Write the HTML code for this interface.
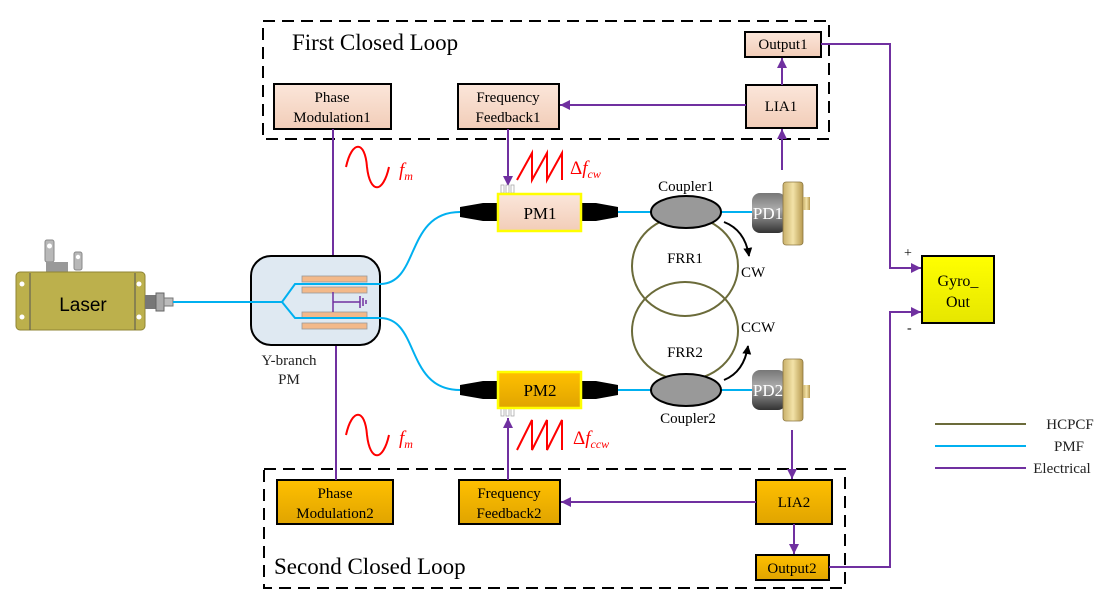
<!DOCTYPE html>
<html><head><meta charset="utf-8"><style>
html,body{margin:0;padding:0;background:#fff;}
svg{display:block;font-family:"Liberation Serif",serif;}
</style></head><body>
<svg width="1116" height="606" viewBox="0 0 1116 606" xmlns="http://www.w3.org/2000/svg">
<defs>
<marker id="ar" viewBox="0 0 10 10" refX="10" refY="5" markerWidth="10" markerHeight="10" markerUnits="userSpaceOnUse" orient="auto"><path d="M0,0 L10,5 L0,10 z" fill="#7030a0"/></marker>
<marker id="ak" viewBox="0 0 10 10" refX="9" refY="5" markerWidth="9" markerHeight="9" markerUnits="userSpaceOnUse" orient="auto"><path d="M0,0 L10,5 L0,10 z" fill="#000"/></marker>
<linearGradient id="peach" x1="0" y1="0" x2="0" y2="1"><stop offset="0" stop-color="#fbe6da"/><stop offset="1" stop-color="#f2cdb8"/></linearGradient>
<linearGradient id="gold" x1="0" y1="0" x2="0" y2="1"><stop offset="0" stop-color="#ffc000"/><stop offset="1" stop-color="#e0a400"/></linearGradient>
<linearGradient id="yel" x1="0" y1="0" x2="0" y2="1"><stop offset="0" stop-color="#ffff00"/><stop offset="1" stop-color="#e6e600"/></linearGradient>
<linearGradient id="pdb" x1="0" y1="0" x2="0" y2="1"><stop offset="0" stop-color="#777"/><stop offset="0.4" stop-color="#aaa"/><stop offset="1" stop-color="#333"/></linearGradient>
<linearGradient id="fl" x1="0" y1="0" x2="1" y2="0"><stop offset="0" stop-color="#c9b06a"/><stop offset="0.5" stop-color="#f3e3a8"/><stop offset="1" stop-color="#b89a50"/></linearGradient>
</defs>

<rect x="263" y="21" width="566" height="118" fill="none" stroke="#000" stroke-width="2" stroke-dasharray="12,7"/>
<text x="292" y="50" font-size="23">First Closed Loop</text>
<rect x="264" y="469" width="581" height="119" fill="none" stroke="#000" stroke-width="2" stroke-dasharray="12,7"/>
<text x="274" y="574" font-size="23">Second Closed Loop</text>

<g font-size="15" text-anchor="middle" stroke-width="2">
<rect x="274" y="84" width="117" height="45" fill="url(#peach)" stroke="#000"/>
<text x="332" y="102" stroke="none">Phase</text><text x="332" y="122" stroke="none">Modulation1</text>
<rect x="458" y="84" width="101" height="45" fill="url(#peach)" stroke="#000"/>
<text x="508" y="102" stroke="none">Frequency</text><text x="508" y="122" stroke="none">Feedback1</text>
<rect x="746" y="85" width="71" height="43" fill="url(#peach)" stroke="#000"/>
<text x="781" y="111" stroke="none">LIA1</text>
<rect x="745" y="32" width="76" height="25" fill="url(#peach)" stroke="#000"/>
<text x="783" y="49" stroke="none">Output1</text>

<rect x="277" y="480" width="116" height="44" fill="url(#gold)" stroke="#000"/>
<text x="335" y="498" stroke="none">Phase</text><text x="335" y="518" stroke="none">Modulation2</text>
<rect x="459" y="480" width="101" height="44" fill="url(#gold)" stroke="#000"/>
<text x="509" y="498" stroke="none">Frequency</text><text x="509" y="518" stroke="none">Feedback2</text>
<rect x="756" y="480" width="76" height="44" fill="url(#gold)" stroke="#000"/>
<text x="794" y="507" stroke="none">LIA2</text>
<rect x="756" y="555" width="73" height="25" fill="url(#gold)" stroke="#000"/>
<text x="792" y="573" stroke="none">Output2</text>

<rect x="922" y="256" width="72" height="67" fill="url(#yel)" stroke="#000"/>
<text x="958" y="286" stroke="none" font-size="16">Gyro_</text><text x="958" y="307" stroke="none" font-size="16">Out</text>
</g>
<text x="904" y="257" font-size="14">+</text>
<text x="907" y="332" font-size="14">-</text>

<g stroke="#7030a0" stroke-width="2" fill="none" marker-end="url(#ar)">
<path d="M821,44 H890 V268 H921"/>
<path d="M829,567 H890 V312 H921"/>
<path d="M782,85 V58"/>
<path d="M782,170 V129"/>
<path d="M746,105 H560"/>
<path d="M508,129 V186"/>
<path d="M333,129 V283"/>
<path d="M792,430 V479"/>
<path d="M756,502 H561"/>
<path d="M794,524 V554"/>
<path d="M508,480 V418"/>
<path d="M336,480 V328"/>
</g>

<rect x="45" y="240" width="9" height="22" rx="2" fill="#b8b8b8" stroke="#888"/>
<circle cx="49.5" cy="246" r="2.5" fill="#fff"/>
<rect x="74" y="252" width="8" height="18" rx="2" fill="#b8b8b8" stroke="#888"/>
<circle cx="78" cy="257" r="2.2" fill="#fff"/>
<rect x="46" y="262" width="22" height="10" fill="#999"/>
<rect x="16" y="272" width="129" height="58" rx="4" fill="#bcb04c" stroke="#8f8535"/>
<line x1="30" y1="273" x2="30" y2="330" stroke="#555"/>
<line x1="135" y1="273" x2="135" y2="330" stroke="#555"/>
<circle cx="22" cy="284" r="2.5" fill="#fff"/><circle cx="22" cy="317" r="2.5" fill="#fff"/>
<circle cx="139" cy="284" r="2.5" fill="#fff"/><circle cx="139" cy="317" r="2.5" fill="#fff"/>
<text x="83" y="311" font-size="19" text-anchor="middle" font-family="Liberation Sans, sans-serif">Laser</text>
<rect x="145" y="295" width="11" height="14" fill="#777"/>
<rect x="156" y="293" width="8" height="18" fill="#aaa" stroke="#666"/>
<rect x="164" y="298" width="9" height="8" fill="#bbb" stroke="#777"/>

<rect x="251" y="256" width="129" height="89" rx="20" fill="#dfe9f2" stroke="#000" stroke-width="2"/>
<g fill="#f3b98a" stroke="#999" stroke-width="0.8">
<rect x="302" y="276" width="65" height="6"/><rect x="302" y="287" width="65" height="6"/>
<rect x="302" y="312" width="65" height="6"/><rect x="302" y="323" width="65" height="6"/>
</g>
<g stroke="#7030a0" stroke-width="1.5" fill="none">
<path d="M333,292 V312 M333,302 H360 M360,296 V308 M363,298 V306 M366,300 V304"/>
</g>
<text x="289" y="365" font-size="15" text-anchor="middle" fill="#222">Y-branch</text>
<text x="289" y="384" font-size="15" text-anchor="middle" fill="#222">PM</text>

<g stroke="#00b0f0" stroke-width="2" fill="none">
<path d="M173,302 H282 L295,284 H380 C420,284 405,212 460,212"/>
<path d="M282,302 L295,318 H380 C420,318 405,390 460,390"/>
<path d="M618,212 H651 M721,212 H752"/>
<path d="M618,390 H651 M721,390 H752"/>
<line x1="935" y1="446" x2="1026" y2="446"/>
</g>
<line x1="935" y1="424" x2="1026" y2="424" stroke="#6b6b3a" stroke-width="2"/>
<line x1="935" y1="468" x2="1026" y2="468" stroke="#7030a0" stroke-width="2"/>
<g font-size="15" text-anchor="middle" fill="#222">
<text x="1070" y="429">HCPCF</text><text x="1069" y="451">PMF</text><text x="1062" y="473">Electrical</text>
</g>

<g fill="#000">
<path d="M460,207 L483,203 H498 V221 H483 L460,217 Z"/>
<path d="M618,207 L596,203 H581 V221 H596 L618,217 Z"/>
<path d="M460,385 L483,381 H498 V399 H483 L460,395 Z"/>
<path d="M618,385 L596,381 H581 V399 H596 L618,395 Z"/>
</g>
<g stroke="#aaa" fill="#fff" stroke-width="0.8">
<rect x="501" y="185" width="3" height="8"/><rect x="506" y="185" width="3" height="8"/><rect x="511" y="185" width="3" height="8"/>
<rect x="501" y="408" width="3" height="8"/><rect x="506" y="408" width="3" height="8"/><rect x="511" y="408" width="3" height="8"/>
</g>
<rect x="498" y="194" width="83" height="37" fill="url(#peach)" stroke="#ffff00" stroke-width="2.5"/>
<text x="540" y="219" font-size="17" text-anchor="middle">PM1</text>
<rect x="498" y="372" width="83" height="36" fill="url(#gold)" stroke="#ffff00" stroke-width="2.5"/>
<text x="540" y="396" font-size="17" text-anchor="middle">PM2</text>

<ellipse cx="685" cy="266" rx="53" ry="50" fill="none" stroke="#6b6b3a" stroke-width="2"/>
<ellipse cx="685" cy="331" rx="53" ry="49" fill="none" stroke="#6b6b3a" stroke-width="2"/>
<text x="685" y="263" font-size="15" text-anchor="middle">FRR1</text>
<text x="685" y="357" font-size="15" text-anchor="middle">FRR2</text>
<ellipse cx="686" cy="212" rx="35" ry="16" fill="#999" stroke="#000" stroke-width="2"/>
<ellipse cx="686" cy="390" rx="35" ry="16" fill="#999" stroke="#000" stroke-width="2"/>
<text x="686" y="191" font-size="15" text-anchor="middle">Coupler1</text>
<text x="688" y="423" font-size="15" text-anchor="middle">Coupler2</text>
<path d="M724,222 Q745,230 749,256" stroke="#000" stroke-width="2" fill="none" marker-end="url(#ak)"/>
<path d="M724,380 Q744,372 748,346" stroke="#000" stroke-width="2" fill="none" marker-end="url(#ak)"/>
<text x="741" y="277" font-size="15">CW</text>
<text x="741" y="332" font-size="15">CCW</text>

<g>
<rect x="752" y="193" width="34" height="40" rx="8" fill="url(#pdb)"/>
<rect x="783" y="182" width="20" height="63" rx="3" fill="url(#fl)" stroke="#8a7640" stroke-width="0.8"/>
<rect x="803" y="197" width="7" height="13" fill="url(#fl)"/>
<text x="768" y="219" font-size="17" fill="#fff" text-anchor="middle">PD1</text>
<rect x="752" y="370" width="34" height="40" rx="8" fill="url(#pdb)"/>
<rect x="783" y="359" width="20" height="62" rx="3" fill="url(#fl)" stroke="#8a7640" stroke-width="0.8"/>
<rect x="803" y="385" width="7" height="13" fill="url(#fl)"/>
<text x="768" y="396" font-size="17" fill="#fff" text-anchor="middle">PD2</text>
</g>

<g stroke="#ff0000" stroke-width="2" fill="none">
<path d="M346,167 C352,140 365,140 367,167 C370,194 383,194 389,167"/>
<path d="M346,435 C352,408 365,408 367,435 C370,462 383,462 389,435"/>
<path d="M517,180 L532,153 V180 L547,153 V180 L562,153 V180"/>
<path d="M517,450 L532,420 V450 L547,420 V450 L562,420 V450"/>
</g>
<g fill="#ff0000" font-style="italic">
<text x="399" y="176" font-size="19">f<tspan font-size="12" dy="4">m</tspan></text>
<text x="399" y="444" font-size="19">f<tspan font-size="12" dy="4">m</tspan></text>
<text x="570" y="174" font-size="19"><tspan font-style="normal">Δ</tspan>f<tspan font-size="12" dy="4">cw</tspan></text>
<text x="573" y="444" font-size="19"><tspan font-style="normal">Δ</tspan>f<tspan font-size="12" dy="4">ccw</tspan></text>
</g>
</svg>
</body></html>
